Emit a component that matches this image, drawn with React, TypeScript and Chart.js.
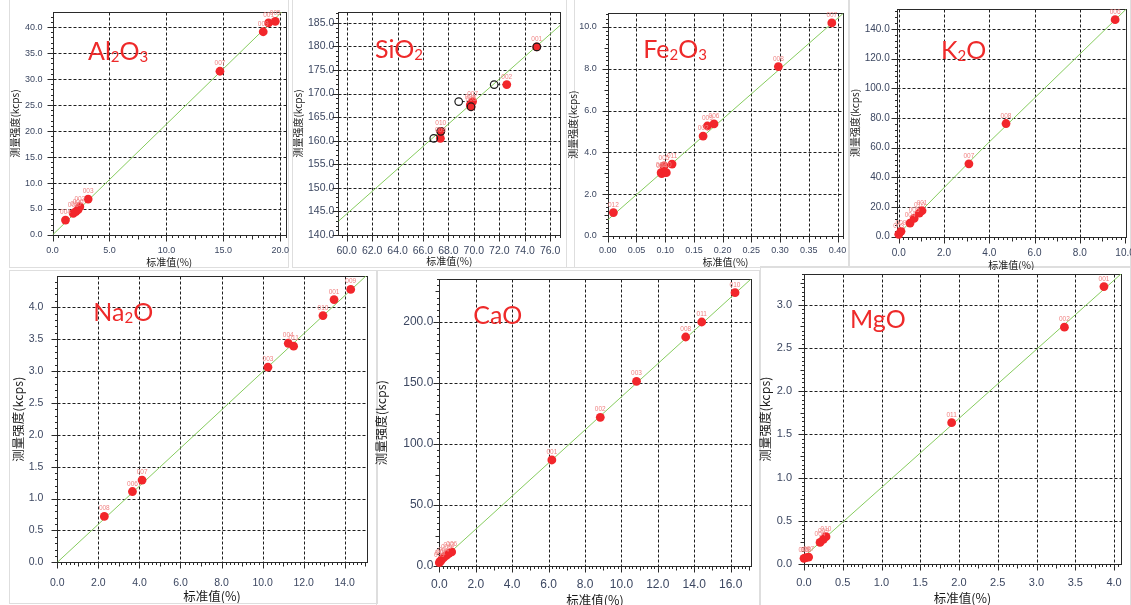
import React, { useEffect, useRef } from "react";
import { Chart, registerables } from "chart.js";
Chart.register(...registerables);

// ---------------- DATA ----------------
// Al2O3
const al2o3X = [1.14, 1.82, 2.05, 2.25, 2.4, 3.13, 14.7, 18.5, 18.97, 19.56];
const al2o3Y = [2.88, 4.17, 4.5, 4.9, 5.45, 6.92, 31.5, 39.1, 40.8, 41.1];
const al2o3Labels = ["004", "008", "010", "006", "002", "003", "007", "009", "001", "005"];
const al2o3FitX = [0, 20.5];
const al2o3FitY = [0, 43.7];
const al2o3XTicks = [0, 5, 10, 15, 20];
const al2o3YTicks = [0, 5, 10, 15, 20, 25, 30, 35, 40];

// SiO2
const sio2X = [74.95, 72.59, 69.9, 69.78, 69.72, 67.4, 67.37];
const sio2Y = [179.9, 171.9, 168.3, 167.2, 167.6, 162.0, 160.5];
const sio2Labels = ["001", "002", "007", "005", "004", "010", "009"];
const sio2OrigX = [74.95, 71.6, 68.81, 69.78, 67.4, 66.85];
const sio2OrigY = [179.9, 171.9, 168.3, 167.2, 162.0, 160.5];
const sio2OrigRef = [0, 1, 2, 3, 5, 6];
const sio2FitX = [59.34, 76.8];
const sio2FitY = [142.9, 184.5];
const sio2XTicks = [60, 62, 64, 66, 68, 70, 72, 74, 76];
const sio2YTicks = [140, 145, 150, 155, 160, 165, 170, 175, 180, 185];

// Fe2O3
const fe2o3X = [0.0099, 0.093, 0.094, 0.098, 0.102, 0.112, 0.166, 0.1735, 0.185, 0.297, 0.39];
const fe2o3Y = [1.12, 3.03, 2.98, 3.35, 3.03, 3.44, 4.78, 5.26, 5.36, 8.1, 10.19];
const fe2o3Labels = ["012", "003", "004", "005", "010", "011", "002", "009", "006", "008", "007"];
const fe2o3FitX = [0, 0.41];
const fe2o3FitY = [0.77, 10.65];
const fe2o3XTicks = [0, 0.05, 0.1, 0.15, 0.2, 0.25, 0.3, 0.35, 0.4];
const fe2o3YTicks = [0, 2, 4, 6, 8, 10];

// K2O
const k2oX = [0.0, 0.1, 0.5, 0.68, 0.91, 1.03, 3.1, 4.74, 9.56];
const k2oY = [1.6, 3.6, 9.2, 12.3, 15.9, 17.5, 49.1, 76.3, 146.3];
const k2oLabels = ["003", "009", "004", "005", "010", "001", "007", "008", "006"];
const k2oFitX = [0, 3.74, 10.04];
const k2oFitY = [2, 60, 153.3];
const k2oXTicks = [0, 2, 4, 6, 8, 10];
const k2oYTicks = [0, 20, 40, 60, 80, 100, 120, 140];

// Na2O
const na2oX = [2.29, 3.66, 4.13, 10.26, 11.25, 11.51, 12.94, 13.48, 14.29];
const na2oY = [0.72, 1.11, 1.29, 3.06, 3.435, 3.39, 3.87, 4.12, 4.28];
const na2oLabels = ["008", "006", "007", "003", "004", "011", "010", "001", "009"];
const na2oFitX = [0, 15.09];
const na2oFitY = [0, 4.507];
const na2oXTicks = [0, 2, 4, 6, 8, 10, 12, 14];
const na2oYTicks = [0, 0.5, 1, 1.5, 2, 2.5, 3, 3.5, 4];

// CaO
const caoX = [0.0, 0.05, 0.11, 0.24, 0.39, 0.53, 0.68, 6.18, 8.84, 10.83, 13.53, 14.41, 16.24];
const caoY = [2.7, 3.8, 4.9, 6.8, 8.7, 10.4, 11.5, 86.9, 121.9, 151.4, 187.7, 200, 224];
const caoLabels = ["009", "012", "007", "004", "005", "013", "006", "001", "002", "003", "008", "011", "010"];
const caoFitX = [0, 17.1];
const caoFitY = [3, 235];
const caoXTicks = [0, 2, 4, 6, 8, 10, 12, 14, 16];
const caoYTicks = [0, 50, 100, 150, 200];

// MgO
const mgoX = [0.0, 0.026, 0.06, 0.207, 0.25, 0.284, 1.905, 3.36, 3.87];
const mgoY = [0.066, 0.073, 0.08, 0.25, 0.285, 0.316, 1.635, 2.74, 3.21];
const mgoLabels = ["005", "008", "007", "004", "009", "010", "011", "002", "001"];
const mgoFitX = [0, 4.09];
const mgoFitY = [0.085, 3.355];
const mgoXTicks = [0, 0.5, 1, 1.5, 2, 2.5, 3, 3.5, 4];
const mgoYTicks = [0, 0.5, 1, 1.5, 2, 2.5, 3];

const X_TITLE = "标准值(%)";
const Y_TITLE = "测量强度(kcps)";

// ---------------- STYLE ----------------
const POINT_RED = "#f2262b";
const LABEL_PINK = "#f08484";
const FIT_GREEN = "#86cc5e";
const TICK_TEXT = "#3c4761";
const TITLE_RED = "#ee2a2a";

type Seg = [string, number];
type PanelDef = {
  key: string;
  title: Seg[];
  titlePos: [number, number];
  xs: number[]; ys: number[]; labels: string[];
  fitX: number[]; fitY: number[];
  origX?: number[]; origY?: number[]; origRef?: number[];
  xMin: number; xMax: number; yMin: number; yMax: number;
  xTicks: number[]; yTicks: number[]; xDec: number; yDec: number;
  box: [number, number, number, number];
  plot: [number, number, number, number];
  tickFont: number; yPad: number; xCenter: number;
  axisFont: number; yTitleOff: number; xTitleOff: number;
};

const panels: PanelDef[] = [
  {
    key: "al2o3", title: [["Al", 0], ["2", 1], ["O", 0], ["3", 1]], titlePos: [88, 60],
    xs: al2o3X, ys: al2o3Y, labels: al2o3Labels, fitX: al2o3FitX, fitY: al2o3FitY,
    xMin: 0, xMax: 20.5, yMin: 0, yMax: 42.9, xTicks: al2o3XTicks, yTicks: al2o3YTicks, xDec: 1, yDec: 1,
    box: [9, 0, 291, 268], plot: [52.5, 12, 286, 235],
    tickFont: 9, yPad: 10, xCenter: 16, axisFont: 10, yTitleOff: 6, xTitleOff: 6,
  },
  {
    key: "sio2", title: [["SiO", 0], ["2", 1]], titlePos: [375, 57.5],
    xs: sio2X, ys: sio2Y, labels: sio2Labels, fitX: sio2FitX, fitY: sio2FitY,
    origX: sio2OrigX, origY: sio2OrigY, origRef: sio2OrigRef,
    xMin: 59.34, xMax: 76.8, yMin: 140, yMax: 187.3, xTicks: sio2XTicks, yTicks: sio2YTicks, xDec: 1, yDec: 1,
    box: [292, 0, 572, 268], plot: [338.3, 12, 560.3, 235],
    tickFont: 10.5, yPad: 4, xCenter: 15.7, axisFont: 10, yTitleOff: 6, xTitleOff: 6.3,
  },
  {
    key: "fe2o3", title: [["Fe", 0], ["2", 1], ["O", 0], ["3", 1]], titlePos: [643.3, 58.3],
    xs: fe2o3X, ys: fe2o3Y, labels: fe2o3Labels, fitX: fe2o3FitX, fitY: fe2o3FitY,
    xMin: 0, xMax: 0.41, yMin: 0, yMax: 10.65, xTicks: fe2o3XTicks, yTicks: fe2o3YTicks, xDec: 2, yDec: 1,
    box: [567, 0, 852, 268], plot: [607.7, 13.3, 843.3, 236],
    tickFont: 9, yPad: 11, xCenter: 14.7, axisFont: 10, yTitleOff: 6, xTitleOff: 5.7,
  },
  {
    key: "k2o", title: [["K", 0], ["2", 1], ["O", 0]], titlePos: [941, 58.7],
    xs: k2oX, ys: k2oY, labels: k2oLabels, fitX: k2oFitX, fitY: k2oFitY,
    xMin: -0.09, xMax: 10.04, yMin: 0, yMax: 153.3, xTicks: k2oXTicks, yTicks: k2oYTicks, xDec: 1, yDec: 1,
    box: [849, 0, 1131, 270], plot: [896.7, 9.3, 1126, 236.7],
    tickFont: 10, yPad: 7, xCenter: 16.5, axisFont: 10, yTitleOff: 6, xTitleOff: 5,
  },
  {
    key: "na2o", title: [["Na", 0], ["2", 1], ["O", 0]], titlePos: [93.3, 320.7],
    xs: na2oX, ys: na2oY, labels: na2oLabels, fitX: na2oFitX, fitY: na2oFitY,
    xMin: 0, xMax: 15.07, yMin: 0, yMax: 4.49, xTicks: na2oXTicks, yTicks: na2oYTicks, xDec: 1, yDec: 1,
    box: [9, 270, 378, 603], plot: [57.3, 276, 366.7, 562.3],
    tickFont: 10.5, yPad: 14, xCenter: 20.4, axisFont: 12.5, yTitleOff: 9, xTitleOff: 6.3,
  },
  {
    key: "cao", title: [["CaO", 0]], titlePos: [473.3, 324],
    xs: caoX, ys: caoY, labels: caoLabels, fitX: caoFitX, fitY: caoFitY,
    xMin: 0, xMax: 17.1, yMin: 0, yMax: 235, xTicks: caoXTicks, yTicks: caoYTicks, xDec: 1, yDec: 1,
    box: [375, 270, 760, 605], plot: [439.3, 279.3, 750.7, 566],
    tickFont: 12, yPad: 6, xCenter: 19, axisFont: 12.5, yTitleOff: 6.7, xTitleOff: 5,
  },
  {
    key: "mgo", title: [["MgO", 0]], titlePos: [850, 327.7],
    xs: mgoX, ys: mgoY, labels: mgoLabels, fitX: mgoFitX, fitY: mgoFitY,
    xMin: 0, xMax: 4.09, yMin: 0, yMax: 3.355, xTicks: mgoXTicks, yTicks: mgoYTicks, xDec: 1, yDec: 1,
    box: [759, 265, 1131, 605], plot: [804, 274, 1121, 564],
    tickFont: 11, yPad: 12, xCenter: 18.7, axisFont: 12.5, yTitleOff: 6, xTitleOff: 6.7,
  },
];

const frames: [number, number, number, number][] = [
  [9, -1, 289, 268],
  [292, -1, 575, 268],
  [566, -1, 850, 268],
  [848, -1, 1131, 268],
  [9, 270, 378, 604],
  [376, 270, 760, 606],
  [760, 266, 1131, 606],
];

function drawAxisTicks(ctx: CanvasRenderingContext2D, scale: any, horizontal: boolean, major: number, edge: number) {
  const spanPx = Math.abs(scale.getPixelForValue(major) - scale.getPixelForValue(0));
  const n = spanPx >= 34 ? 10 : 5;
  const step = major / n;
  const k0 = Math.ceil(scale.min / step - 1e-6);
  const k1 = Math.floor(scale.max / step + 1e-6);
  ctx.beginPath();
  for (let k = k0; k <= k1; k++) {
    const m = ((k % n) + n) % n;
    const len = m === 0 ? 6 : n === 10 && m === 5 ? 4 : 2.5;
    const pix = Math.round(scale.getPixelForValue(k * step)) + 0.5;
    if (horizontal) {
      ctx.moveTo(pix, edge);
      ctx.lineTo(pix, edge + len);
    } else {
      ctx.moveTo(edge, pix);
      ctx.lineTo(edge - len, pix);
    }
  }
  ctx.stroke();
}

function makePlugin(p: PanelDef) {
  return {
    id: "decor_" + p.key,
    beforeDatasetsDraw(chart: any) {
      const { ctx, chartArea: a, scales } = chart;
      const xs = scales.x, ys = scales.y;
      const L = Math.round(a.left) + 0.5, R = Math.round(a.right) + 0.5;
      const T = Math.round(a.top) + 0.5, B = Math.round(a.bottom) + 0.5;
      ctx.save();
      ctx.lineWidth = 1;
      ctx.strokeStyle = "#1e1e1e";
      ctx.setLineDash([3, 2]);
      ctx.beginPath();
      for (const v of p.xTicks) {
        const px = Math.round(xs.getPixelForValue(v)) + 0.5;
        if (px <= L + 1 || px >= R - 1) continue;
        ctx.moveTo(px, T);
        ctx.lineTo(px, B);
      }
      for (const v of p.yTicks) {
        const py = Math.round(ys.getPixelForValue(v)) + 0.5;
        if (py <= T + 1 || py >= B - 1) continue;
        ctx.moveTo(L, py);
        ctx.lineTo(R, py);
      }
      ctx.stroke();
      ctx.setLineDash([]);
      ctx.strokeStyle = "#2a2a2a";
      ctx.strokeRect(L, T, R - L, B - T);
      drawAxisTicks(ctx, xs, true, p.xTicks[1] - p.xTicks[0], B);
      drawAxisTicks(ctx, ys, false, p.yTicks[1] - p.yTicks[0], L);
      if (p.origX && p.origY && p.origRef) {
        ctx.setLineDash([2, 2]);
        ctx.strokeStyle = "#222";
        ctx.beginPath();
        p.origX.forEach((ox, i) => {
          const r = p.origRef![i];
          const x1 = xs.getPixelForValue(ox), y1 = ys.getPixelForValue(p.origY![i]);
          const x2 = xs.getPixelForValue(p.xs[r]), y2 = ys.getPixelForValue(p.ys[r]);
          if (Math.hypot(x2 - x1, y2 - y1) < 8) return;
          ctx.moveTo(x1 + 4, y1);
          ctx.lineTo(x2 - 4, y2);
        });
        ctx.stroke();
        ctx.setLineDash([]);
      }
      ctx.restore();
    },
    afterDatasetsDraw(chart: any) {
      const { ctx, scales } = chart;
      const xs = scales.x, ys = scales.y;
      ctx.save();
      ctx.font = "6.5px 'Liberation Sans'";
      ctx.fillStyle = LABEL_PINK;
      ctx.textAlign = "center";
      ctx.textBaseline = "alphabetic";
      p.xs.forEach((x, i) => {
        const px = xs.getPixelForValue(x), py = ys.getPixelForValue(p.ys[i]);
        ctx.fillText(p.labels[i], px, py - 6);
      });
      ctx.textAlign = "left";
      ctx.fillStyle = TITLE_RED;
      let tx = p.titlePos[0] - p.box[0];
      const ty = p.titlePos[1] - p.box[1];
      for (const [t, sub] of p.title) {
        const size = sub ? 15 : 25;
        ctx.font = `${size}px Lato`;
        ctx.fillText(t, tx, ty + (sub ? 2 : 0));
        tx += ctx.measureText(t).width;
      }
      ctx.restore();
    },
  };
}

function PanelChart({ p }: { p: PanelDef }) {
  const ref = useRef<HTMLCanvasElement>(null);
  const [bl, bt, br, bb] = p.box;
  const w = br - bl, h = bb - bt;
  useEffect(() => {
    const [pl, pt, pr, pb] = p.plot;
    const zeroPad = (s: any) => {
      s.paddingLeft = 0; s.paddingRight = 0; s.paddingTop = 0; s.paddingBottom = 0;
    };
    const datasets: any[] = [
      {
        label: "std",
        data: p.xs.map((x, i) => ({ x, y: p.ys[i] })),
        pointRadius: 4.4,
        pointBackgroundColor: POINT_RED,
        pointBorderWidth: 0,
        showLine: false,
        clip: false,
        order: 1,
      },
      {
        label: "fit",
        data: p.fitX.map((x, i) => ({ x, y: p.fitY[i] })),
        showLine: true,
        pointRadius: 0,
        borderColor: FIT_GREEN,
        borderWidth: 1,
        order: 3,
      },
    ];
    if (p.origX && p.origY) {
      datasets.push({
        label: "orig",
        data: p.origX.map((x, i) => ({ x, y: p.origY![i] })),
        pointRadius: 3.8,
        pointBackgroundColor: "rgba(0,0,0,0)",
        pointBorderColor: "#1a1a1a",
        pointBorderWidth: 1.2,
        showLine: false,
        clip: false,
        order: 0,
      });
    }
    const tickFont = { family: "'Liberation Sans', Arial, sans-serif", size: p.tickFont };
    const axisFont = { family: "'Noto Sans CJK SC', sans-serif", size: p.axisFont, lineHeight: 1 };
    const chart = new Chart(ref.current!, {
      type: "scatter",
      data: { datasets },
      options: {
        animation: false,
        responsive: false,
        devicePixelRatio: 1,
        events: [],
        layout: { padding: { left: 0, top: pt - bt, right: br - pr, bottom: 0 } },
        plugins: { legend: { display: false }, tooltip: { enabled: false } },
        scales: {
          x: {
            type: "linear",
            position: "bottom",
            min: p.xMin,
            max: p.xMax,
            grid: { display: false, drawTicks: false },
            border: { display: false },
            afterBuildTicks: (s: any) => { s.ticks = p.xTicks.map((v) => ({ value: v })); },
            afterFit: (s: any) => { s.height = bb - pb; zeroPad(s); },
            ticks: {
              autoSkip: false, maxRotation: 0, minRotation: 0,
              padding: p.xCenter - 0.6 * p.tickFont,
              color: TICK_TEXT, font: tickFont,
              callback: (v: any) => Number(v).toFixed(p.xDec),
            },
            title: {
              display: true, text: X_TITLE, color: "#1a1a1a", font: axisFont,
              padding: { top: 0, bottom: p.xTitleOff - p.axisFont / 2 },
            },
          },
          y: {
            type: "linear",
            position: "left",
            min: p.yMin,
            max: p.yMax,
            grid: { display: false, drawTicks: false },
            border: { display: false },
            afterBuildTicks: (s: any) => { s.ticks = p.yTicks.map((v) => ({ value: v })); },
            afterFit: (s: any) => { s.width = pl - bl; zeroPad(s); },
            ticks: {
              autoSkip: false,
              padding: p.yPad,
              color: TICK_TEXT, font: tickFont,
              callback: (v: any) => Number(v).toFixed(p.yDec),
            },
            title: {
              display: true, text: Y_TITLE, color: "#1a1a1a", font: axisFont,
              padding: { top: p.yTitleOff - p.axisFont / 2, bottom: 0 },
            },
          },
        },
      } as any,
      plugins: [makePlugin(p)],
    });
    return () => chart.destroy();
  }, [p]);
  return (
    <canvas
      ref={ref}
      width={w}
      height={h}
      style={{ position: "absolute", left: bl, top: bt, width: w, height: h }}
    />
  );
}

export default function App() {
  return (
    <div style={{ position: "absolute", left: 0, top: 0, width: 1131, height: 605, background: "#fff", overflow: "hidden" }}>
      {frames.map((f, i) => (
        <div
          key={i}
          style={{
            position: "absolute", left: f[0], top: f[1], width: f[2] - f[0], height: f[3] - f[1],
            border: "1px solid #dedede", boxSizing: "border-box",
          }}
        />
      ))}
      {panels.map((p) => (
        <PanelChart key={p.key} p={p} />
      ))}
    </div>
  );
}
